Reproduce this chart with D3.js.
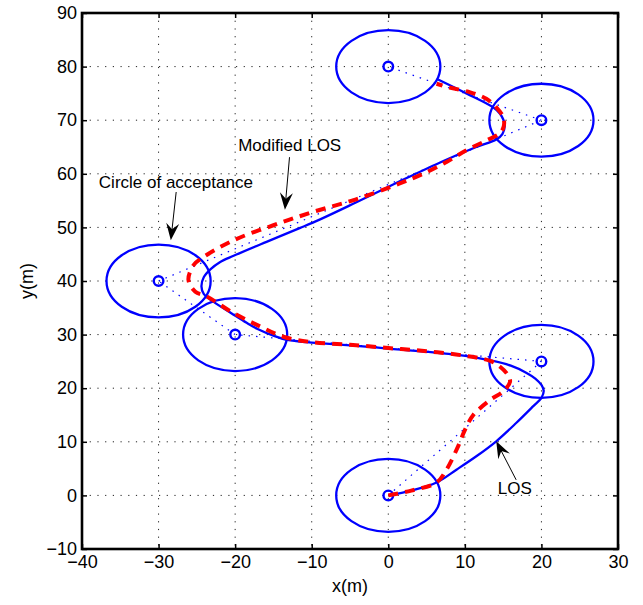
<!DOCTYPE html>
<html>
<head>
<meta charset="utf-8">
<script src="https://cdn.jsdelivr.net/npm/d3@7"></script>
<style>
  body { margin: 0; background: #fff; }
  svg { display: block; font-family: "Liberation Sans", Arial, sans-serif; }
</style>
</head>
<body>
<svg width="643" height="605"></svg>
<script>

// DATA ––––––––––––––––––––––––––––––––––––––––––––––––––––––––––––––––

var xTicks = [-40, -30, -20, -10, 0, 10, 20, 30];
var yTicks = [-10, 0, 10, 20, 30, 40, 50, 60, 70, 80, 90];

// waypoints, in the order they are visited
var wayX = [0, 20, -20, -30, 20, 0];
var wayY = [0, 25, 30, 40, 70, 80];
var acceptRadius = 6.8;

// LOS path (blue, solid)
var losX = [0, 3, 6.3, 8.9, 11.5, 14.1, 16.7, 18.9, 20.0, 20.3, 20.0, 19.2, 18.0, 16.0, 13.3, 10.7, 5, 0, -5, -10, -13.2, -15, -17, -18.5, -20.5, -22.8, -24.1, -24.4, -24.1, -23.2, -22.0, -20.2, -15.9, -11.5, -8.9, -4.3, 1.5, 7.2, 11.5, 14.1, 14.9, 15.2, 14.6, 13.7, 10.2, 6.5];
var losY = [0, 0.9, 2.4, 4.8, 7.3, 10.1, 13.5, 16.6, 18.2, 19.5, 20.6, 21.8, 22.9, 24.2, 25.2, 25.9, 26.8, 27.4, 28.0, 28.5, 29.0, 29.8, 31.0, 32.2, 34.0, 36.1, 37.6, 39.0, 40.7, 42.2, 43.5, 44.7, 47.3, 49.9, 51.5, 54.6, 58.6, 62.4, 65.0, 66.4, 67.4, 69.1, 71.2, 72.4, 75.0, 77.6];

// Modified LOS path (red, dashed)
var modX = [0, 3, 6.3, 7.6, 9.1, 10.0, 11.1, 13.3, 15.0, 15.9, 15.6, 14.6, 13.3, 9.8, 5, 0, -5, -10, -13.7, -16.7, -20.2, -23.7, -25.2, -26.1, -25.4, -24.1, -20.2, -15.0, -9.8, -4.3, 1.5, 5.0, 7.6, 10.2, 12.8, 14.6, 15.1, 15.0, 14.1, 12.8, 10.7, 8.0, 6.3];
var modY = [0, 0.9, 2.4, 4.8, 9.1, 12.2, 15.0, 17.8, 19.4, 21.2, 22.5, 24.0, 25.1, 26.1, 26.9, 27.5, 28.1, 28.6, 29.6, 31.5, 34.0, 37.1, 38.0, 40.2, 43.0, 44.5, 47.6, 50.4, 52.9, 55.2, 58.2, 60.3, 62.2, 64.4, 66.2, 67.6, 69.0, 70.6, 72.4, 74.0, 75.2, 76.1, 76.8];

// annotations
var noteText = ["Circle of acceptance", "Modified LOS", "LOS"];
var noteX = [-37.8, -19.6, 14.3];
var noteY = [57.4, 64.2, 0.3];
var arrowFromX = [-27.7, -12.9, 16.7];
var arrowFromY = [56.6, 63.1, 2.9];
var arrowToX = [-28.4, -13.5, 14.1];
var arrowToY = [47.6, 53.3, 10.1];


// D3 ––––––––––––––––––––––––––––––––––––––––––––––––––––––––––––––––––

var svg = d3.select("svg"),
    pLeft = 82, pRight = 618, pTop = 13, pBottom = 549;

var x = d3.scaleLinear().domain([-40, 30]).range([pLeft, pRight]);
var y = d3.scaleLinear().domain([-10, 90]).range([pBottom, pTop]);

// grid
var grid = svg.append("g")
  .attr("stroke", "#222")
  .attr("stroke-width", 1)
  .attr("stroke-dasharray", "1.2,6.5");

grid.selectAll(".gx").data(xTicks.slice(1, -1)).enter().append("line")
  .attr("x1", function(d) { return x(d); }).attr("x2", function(d) { return x(d); })
  .attr("y1", pTop).attr("y2", pBottom);
grid.selectAll(".gy").data(yTicks.slice(1, -1)).enter().append("line")
  .attr("y1", function(d) { return y(d); }).attr("y2", function(d) { return y(d); })
  .attr("x1", pLeft).attr("x2", pRight);

// straight dotted legs between waypoints
var legs = d3.range(wayX.length - 1);
svg.append("g").selectAll("line").data(legs).enter().append("line")
  .attr("x1", function(i) { return x(wayX[i]); })
  .attr("y1", function(i) { return y(wayY[i]); })
  .attr("x2", function(i) { return x(wayX[i + 1]); })
  .attr("y2", function(i) { return y(wayY[i + 1]); })
  .attr("stroke", "#0000ff")
  .attr("stroke-width", 1.2)
  .attr("stroke-dasharray", "1.5,6");

// circles of acceptance
svg.append("g").selectAll("ellipse").data(wayX).enter().append("ellipse")
  .attr("cx", function(d) { return x(d); })
  .attr("cy", function(d, i) { return y(wayY[i]); })
  .attr("rx", x(acceptRadius) - x(0))
  .attr("ry", y(0) - y(acceptRadius))
  .attr("fill", "none")
  .attr("stroke", "#0000ff")
  .attr("stroke-width", 2.3);

// waypoint markers
svg.append("g").selectAll("circle").data(wayX).enter().append("circle")
  .attr("cx", function(d) { return x(d); })
  .attr("cy", function(d, i) { return y(wayY[i]); })
  .attr("r", 4.8)
  .attr("fill", "none")
  .attr("stroke", "#0000ff")
  .attr("stroke-width", 2.4);

var line = d3.line()
  .x(function(d) { return x(d[0]); })
  .y(function(d) { return y(d[1]); })
  .curve(d3.curveCatmullRom.alpha(0.5));

svg.append("path")
  .datum(d3.zip(losX, losY))
  .attr("fill", "none")
  .attr("stroke", "#0000ff")
  .attr("stroke-width", 2.3)
  .attr("stroke-linejoin", "round")
  .attr("d", line);

svg.append("path")
  .datum(d3.zip(modX, modY))
  .attr("fill", "none")
  .attr("stroke", "#ff0000")
  .attr("stroke-width", 4)
  .attr("stroke-dasharray", "10,7")
  .attr("d", line);

// frame, ticks and labels
var axB = svg.append("g").attr("transform", "translate(0," + pBottom + ")")
  .call(d3.axisBottom(x).tickValues(xTicks).tickSizeInner(-5).tickSizeOuter(0).tickPadding(6));
var axT = svg.append("g").attr("transform", "translate(0," + pTop + ")")
  .call(d3.axisTop(x).tickValues(xTicks).tickSizeInner(-5).tickSizeOuter(0).tickFormat(""));
var axL = svg.append("g").attr("transform", "translate(" + pLeft + ",0)")
  .call(d3.axisLeft(y).tickValues(yTicks).tickSizeInner(-5).tickSizeOuter(0).tickPadding(5));
var axR = svg.append("g").attr("transform", "translate(" + pRight + ",0)")
  .call(d3.axisRight(y).tickValues(yTicks).tickSizeInner(-5).tickSizeOuter(0).tickFormat(""));

[axB, axT, axL, axR].forEach(function(a) {
  a.select(".domain").remove();
  a.selectAll(".tick line").attr("stroke", "#000").attr("stroke-width", 1.5);
  a.selectAll("text").attr("fill", "#000").style("font-size", "18px").style("font-family", "Liberation Sans, Arial, sans-serif");
});

svg.append("rect")
  .attr("x", pLeft).attr("y", pTop)
  .attr("width", pRight - pLeft).attr("height", pBottom - pTop)
  .attr("fill", "none")
  .attr("stroke", "#000")
  .attr("stroke-width", 2.6);

svg.append("text")
  .attr("x", (pLeft + pRight) / 2).attr("y", 592)
  .attr("text-anchor", "middle")
  .style("font-size", "18px")
  .text("x(m)");

svg.append("text")
  .attr("transform", "translate(33," + ((pTop + pBottom) / 2) + ") rotate(-90)")
  .attr("text-anchor", "middle")
  .style("font-size", "18px")
  .text("y(m)");

// annotations with arrows
svg.append("g").selectAll("text").data(noteText).enter().append("text")
  .attr("x", function(d, i) { return x(noteX[i]); })
  .attr("y", function(d, i) { return y(noteY[i]); })
  .style("font-size", "17px")
  .text(function(d) { return d; });

noteText.forEach(function(d, i) {
  var x0 = x(arrowFromX[i]), y0 = y(arrowFromY[i]),
      x1 = x(arrowToX[i]), y1 = y(arrowToY[i]);
  var a = Math.atan2(y1 - y0, x1 - x0),
      len = 17, half = 6.5, notch = 11;
  var ux = Math.cos(a), uy = Math.sin(a);
  svg.append("line")
    .attr("x1", x0).attr("y1", y0)
    .attr("x2", x1 - ux * notch).attr("y2", y1 - uy * notch)
    .attr("stroke", "#000").attr("stroke-width", 1);
  var pts = [
    [x1, y1],
    [x1 - ux * len - uy * half, y1 - uy * len + ux * half],
    [x1 - ux * notch, y1 - uy * notch],
    [x1 - ux * len + uy * half, y1 - uy * len - ux * half]
  ];
  svg.append("path")
    .attr("d", "M" + pts.join("L") + "Z")
    .attr("fill", "#000");
});

</script>
</body>
</html>
